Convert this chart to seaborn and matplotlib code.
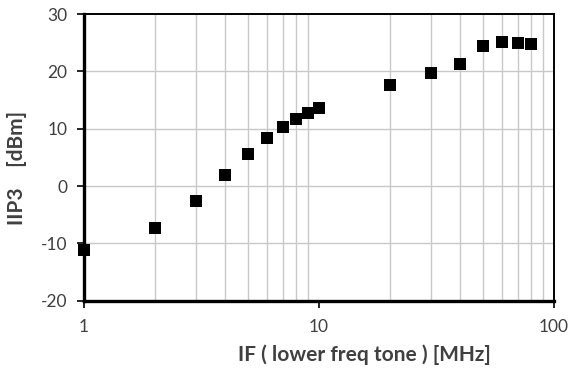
import matplotlib
matplotlib.use("Agg")
import matplotlib.pyplot as plt
import seaborn as sns
import pandas as pd
from matplotlib.ticker import FixedLocator, NullFormatter

freq_mhz = [1, 2, 3, 4, 5, 6, 7, 8, 9, 10, 20, 30, 40, 50, 60, 70, 80]
iip3_dbm = [-11.2, -7.4, -2.6, 1.9, 5.6, 8.4, 10.3, 11.7, 12.7, 13.6,
            17.7, 19.8, 21.3, 24.4, 25.2, 25.0, 24.7]
x_ticks = [1, 10, 100]
x_tick_labels = ["1", "10", "100"]
y_ticks = [-20, -10, 0, 10, 20, 30]
y_tick_labels = ["-20", "-10", "0", "10", "20", "30"]

df = pd.DataFrame({"freq": freq_mhz, "iip3": iip3_dbm})

sns.set_style("white")
plt.rcParams["font.family"] = ["Lato", "DejaVu Sans"]
plt.rcParams["axes.unicode_minus"] = False

fig = plt.figure(figsize=(5.69, 3.69), dpi=100)
ax = fig.add_axes([0.1476, 0.185, 0.826, 0.777])

ax.set_xscale("log")
minor = [m * d for d in (1, 10) for m in range(2, 10)]
for v in minor:
    ax.axvline(v, color="#c8c8c8", lw=1.0, zorder=0)
for v in y_ticks[1:-1]:
    ax.axhline(v, color="#c8c8c8", lw=1.0, zorder=0)

sns.scatterplot(data=df, x="freq", y="iip3", marker="s", s=64, color="black",
                edgecolor="black", linewidth=0, ax=ax, zorder=3, clip_on=False)

ax.set_xlim(1, 100)
ax.set_ylim(-20, 30)
ax.xaxis.set_major_locator(FixedLocator(x_ticks))
ax.set_xticklabels(x_tick_labels)
ax.xaxis.set_minor_locator(FixedLocator([]))
ax.xaxis.set_minor_formatter(NullFormatter())
ax.set_yticks(y_ticks)
ax.set_yticklabels(y_tick_labels)

ax.tick_params(axis="both", which="major", direction="out", length=5, width=1.2,
               color="black", labelsize=12.5, labelcolor="#404040",
               bottom=True, left=True)
ax.tick_params(axis="x", pad=8)
ax.tick_params(axis="y", pad=7)

for s in ("left", "bottom"):
    ax.spines[s].set_linewidth(2.4)
    ax.spines[s].set_color("black")
for s in ("top", "right"):
    ax.spines[s].set_linewidth(1.4)
    ax.spines[s].set_color("black")
    ax.spines[s].set_visible(True)

ax.set_xlabel("")
ax.set_ylabel("")
fig.text(364 / 569, 1 - 355 / 369, "IF ( lower freq tone ) [MHz]", fontsize=15,
         fontweight="bold", color="#404040", ha="center", va="center")
fig.text(17 / 569, 1 - 168 / 369, "IIP3    [dBm]", fontsize=15, rotation=90,
         fontweight="bold", color="#404040", ha="center", va="center")

fig.savefig("out.png", dpi=100)
